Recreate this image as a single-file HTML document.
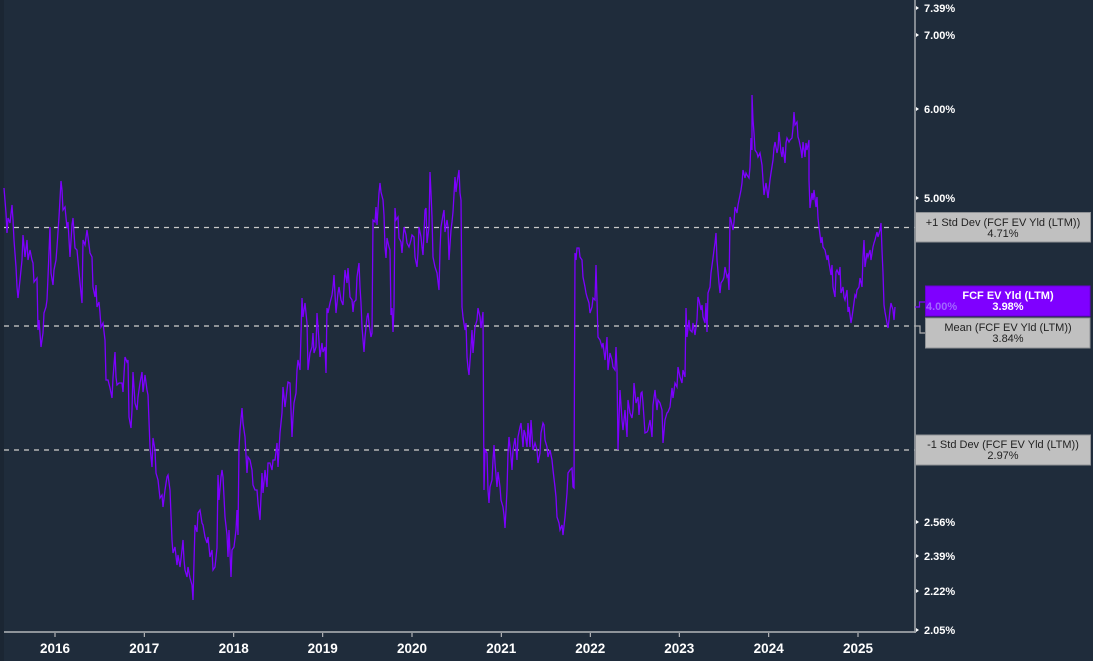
<!DOCTYPE html>
<html>
<head>
<meta charset="utf-8">
<style>
html,body{margin:0;padding:0;background:#1f2c3b;}
svg{display:block;}
text{font-family:"Liberation Sans",Arial,sans-serif;}
</style>
</head>
<body>
<svg width="1093" height="661" viewBox="0 0 1093 661" xmlns="http://www.w3.org/2000/svg">
  <rect x="0" y="0" width="1093" height="661" fill="#1f2c3b"/>
  <rect x="0" y="0" width="4" height="661" fill="#1b2633"/>

  <!-- std dev / mean dashed lines -->
  <g stroke="#c8c8c8" stroke-width="1.2" stroke-dasharray="5 5" fill="none">
    <line x1="4" y1="227.5" x2="915" y2="227.5"/>
    <line x1="4" y1="326" x2="915" y2="326" stroke="#b4b4b4" stroke-width="1.5"/>
    <line x1="4" y1="450" x2="915" y2="450" stroke="#b4b4b4" stroke-width="1.5"/>
  </g>

  <!-- series -->
  <polyline fill="none" stroke="#7d00ff" stroke-width="1.3" stroke-linejoin="miter" points="
4,188 6,213 7,233 8,218 10,223 12,205 13,220 14,240 16,267 17,287 18,298 20,280 22,260 23,235 25,257 27,240 28,260 30,250 32,260 33,263 34,282 37,278 38,330 39,320 41,347 43,333 44,313 46,307 47,300 48,277 50,227 51,273 53,285 54,270 56,260 57,247 59,217 61,181 62,190 63,210 65,207 67,228 68,222 70,257 72,225 73,218 75,248 77,250 79,272 81,293 82,303 83,240 85,245 87,230 88,237 90,253 92,257 93,287 95,297 96,285 97,307 99,302 100,313 101,327 103,323 105,340 106,380 108,380 110,388 112,398 113,378 115,352 116,377 117,385 119,383 122,383 123,392 125,357 127,362 128,360 129,417 131,428 132,410 133,372 135,403 137,410 138,397 140,383 142,372 143,392 145,375 147,390 148,395 150,447 152,467 153,438 155,450 156,473 158,480 160,498 162,495 163,507 165,490 167,477 168,475 170,490 172,540 173,553 175,547 177,565 178,555 180,567 182,550 183,540 184,560 185,570 187,577 188,567 190,578 192,585 193,600 195,525 197,532 198,513 200,510 202,523 203,525 205,537 207,543 208,537 210,557 212,550 213,570 215,567 217,548 218,475 219,500 221,477 222,470 223,477 225,517 227,535 228,557 229,530 231,577 232,550 234,547 236,530 237,510 238,535 239,447 240,430 242,408 243,423 245,437 247,473 248,457 250,460 252,470 253,485 255,490 257,490 258,503 260,520 262,473 263,493 265,470 267,487 268,463 270,463 272,470 273,460 275,460 277,443 278,467 280,433 282,413 283,387 285,407 287,390 288,382 290,383 292,437 293,417 294,403 296,393 297,370 298,360
300,370 302,298 303,317 305,303 307,323 308,370 310,353 312,347 313,333 314,353 316,347 317,313 318,327 320,357 322,343 323,352 325,347 326,373 327,308 328,313 330,303 332,295 333,287 334,275 336,313 338,293 339,287 341,300 343,305 344,287 345,270 347,283 348,268 350,297 352,300 353,312 354,302 356,300 357,277 359,263 360,287 361,303 362,327 364,352 365,337 367,317 368,313 369,323 371,337 372,333 373,220 375,222 376,207 377,225 379,193 380,183 381,192 383,200 384,215 385,247 386,258 387,238 389,247 390,250 391,315 392,308 393,332 394,307 395,208 396,220 398,217 399,238 401,242 402,253 404,227 406,235 407,243 409,247 411,240 412,235 414,237 415,257 417,267 418,253 419,227 421,237 422,247 423,255 425,210 426,208 427,243 429,227 430,172 431,193 432,217 433,257 435,267 437,273 438,282 439,290 440,250 441,227 443,215 444,210 445,232 447,220 448,227 449,260 451,230 452,222 453,212 455,177 456,192 457,183 459,170 460,193 461,200 462,307 463,317 465,330 466,323 467,357 468,368 469,375 471,347 472,330 473,353 475,327 477,320 478,308 480,317 481,328 483,312 484,490 485,450 487,453 488,490 489,503 490,487 492,480 493,460 494,445 495,463 497,487 498,472 500,487 501,500 503,507 504,515 505,528 506,510 507,490 508,453 509,437 511,457 512,470 513,450 515,438 517,460 518,437 520,427 521,423 523,447 524,430 525,433 527,447 528,423 530,447 531,420 533,450 534,447 535,443 537,450 538,463 540,453 541,433 543,423 544,425 545,440 547,447 548,457 550,450 552,460 553,470 555,487 556,497 557,517 559,523 560,530 562,525 563,535 565,517 567,493 568,473 570,470 572,468 573,487 574,488 575,253 576,260 577,248 579,248 580,257 582,260 583,277 585,287 586,293 587,297 589,303 590,313 592,307 593,298 595,300 596,265 597,300 598,337
600,340 602,347 603,343 605,360 607,337 608,370 610,353 612,360 613,367 615,370 616,347 617,370 618,450 620,390 622,420 623,430 625,410 627,437 628,400 630,413 632,418 633,410 634,383 636,403 638,397 639,415 641,393 642,392 643,403 645,433 647,432 648,430 650,420 652,437 653,405 655,390 657,410 658,400 660,403 662,410 663,443 665,420 667,413 668,412 670,407 672,388 673,398 675,383 677,387 678,367 680,377 682,383 683,370 685,377 686,308 687,337 689,320 690,330 692,332 693,323 695,335 697,320 698,297 699,300 701,310 702,305 703,317 705,323 706,303 707,332 708,293 710,287 711,273 713,258 714,250 715,243 716,233 717,260 719,283 720,293 721,283 723,280 724,277 725,267 727,277 728,275 729,290 730,217 731,220 733,230 734,222 735,207 737,213 738,205 739,200 741,190 742,183 743,170 745,178 746,173 747,175 749,178 750,167 751,138 752,150 752,95 753,120 754,133 755,150 757,153 758,157 760,153 762,165 763,180 764,195 766,183 767,190 768,198 770,180 771,173 773,160 774,148 775,142 777,153 778,148 779,132 781,152 782,157 783,147 785,163 786,143 787,138 789,142 790,140 792,138 793,128 794,112 795,125 797,122 798,137 799,140 801,150 802,158 803,142 805,157 806,143 807,150 809,140 809,180 810,208 812,193 813,200 814,190 816,207 817,197 818,218 819,227 821,243 822,237 823,247 825,250 827,260 828,255 829,263 831,275 832,265 833,287 835,297 836,272 837,270 839,275 840,267 841,293 843,287 844,297 845,300 847,290 848,312 849,307 851,323 852,317 853,310 855,295 856,297 857,290 859,287 860,278 862,287 863,257 864,240 865,267 867,253 868,257 870,250 871,260 873,247 874,243 875,240 877,232 878,237 880,230 881,223 882,250 883,273 884,305 885,312 887,323 888,328 889,320 890,310 891,303 893,310 894,320 895,307"/>

  <!-- axes -->
  <line x1="915" y1="0" x2="915" y2="633" stroke="#9ea3a8" stroke-width="1.6"/>
  <line x1="4" y1="632" x2="916" y2="632" stroke="#9ea3a8" stroke-width="1.8"/>

  <!-- x ticks -->
  <g stroke="#d0d0d0" stroke-width="1">
    <line x1="55" y1="633" x2="55" y2="637"/>
    <line x1="144.3" y1="633" x2="144.3" y2="637"/>
    <line x1="233.7" y1="633" x2="233.7" y2="637"/>
    <line x1="322.7" y1="633" x2="322.7" y2="637"/>
    <line x1="412" y1="633" x2="412" y2="637"/>
    <line x1="501.3" y1="633" x2="501.3" y2="637"/>
    <line x1="590.3" y1="633" x2="590.3" y2="637"/>
    <line x1="679.3" y1="633" x2="679.3" y2="637"/>
    <line x1="768.7" y1="633" x2="768.7" y2="637"/>
    <line x1="858" y1="633" x2="858" y2="637"/>
  </g>
  <g fill="#ffffff" font-size="13.5" font-weight="bold" text-anchor="middle">
    <text x="55" y="653">2016</text>
    <text x="144.3" y="653">2017</text>
    <text x="233.7" y="653">2018</text>
    <text x="322.7" y="653">2019</text>
    <text x="412" y="653">2020</text>
    <text x="501.3" y="653">2021</text>
    <text x="590.3" y="653">2022</text>
    <text x="679.3" y="653">2023</text>
    <text x="768.7" y="653">2024</text>
    <text x="858" y="653">2025</text>
  </g>

  <!-- y ticks -->
  <g fill="#ffffff">
    <polygon points="916,6 919,8 916,10"/>
    <polygon points="916,33 919,35 916,37"/>
    <polygon points="916,107 919,109 916,111"/>
    <polygon points="916,196 919,198 916,200"/>
    <polygon points="916,520 919,522 916,524"/>
    <polygon points="916,554 919,556 916,558"/>
    <polygon points="916,589 919,591 916,593"/>
    <polygon points="916,628 919,630 916,632"/>
  </g>
  <g fill="#ffffff" font-size="11" font-weight="bold">
    <text x="924" y="12">7.39%</text>
    <text x="924" y="39">7.00%</text>
    <text x="924" y="113">6.00%</text>
    <text x="924" y="202">5.00%</text>
    <text x="924" y="526">2.56%</text>
    <text x="924" y="560">2.39%</text>
    <text x="924" y="595">2.22%</text>
    <text x="924" y="634">2.05%</text>
  </g>

  <!-- +1 std dev box -->
  <rect x="915.5" y="212.5" width="175" height="29.5" fill="#c0c0c0" stroke="#8f9296" stroke-width="1"/>
  <g fill="#222" font-size="11" text-anchor="middle">
    <text x="1003" y="226">+1 Std Dev (FCF EV Yld (LTM))</text>
    <text x="1003" y="237">4.71%</text>
  </g>

  <!-- connectors -->
  <polyline points="915,307 919.5,307 919.5,302 925,302" fill="none" stroke="#7d00ff" stroke-width="1.2"/>
  <polyline points="915,326 920,326 920,333 925,333" fill="none" stroke="#b0b0b0" stroke-width="1.2"/>

  <!-- FCF box -->
  <rect x="925.5" y="286" width="164.5" height="30" fill="#7f00ff" stroke="#6a00d8" stroke-width="1"/>
  <text x="926" y="310" fill="#a066ff" font-size="11" font-weight="bold">4.00%</text>
  <g fill="#ffffff" font-size="11" font-weight="bold" text-anchor="middle">
    <text x="1008" y="299">FCF EV Yld (LTM)</text>
    <text x="1008" y="310">3.98%</text>
  </g>

  <!-- Mean box -->
  <rect x="925.5" y="318" width="164.5" height="30" fill="#c0c0c0" stroke="#8f9296" stroke-width="1"/>
  <g fill="#222" font-size="11" text-anchor="middle">
    <text x="1008" y="331">Mean (FCF EV Yld (LTM))</text>
    <text x="1008" y="342">3.84%</text>
  </g>

  <!-- -1 std dev box -->
  <rect x="915.5" y="435" width="175" height="30" fill="#c0c0c0" stroke="#8f9296" stroke-width="1"/>
  <g fill="#222" font-size="11" text-anchor="middle">
    <text x="1003" y="448">-1 Std Dev (FCF EV Yld (LTM))</text>
    <text x="1003" y="459">2.97%</text>
  </g>
</svg>
</body>
</html>
